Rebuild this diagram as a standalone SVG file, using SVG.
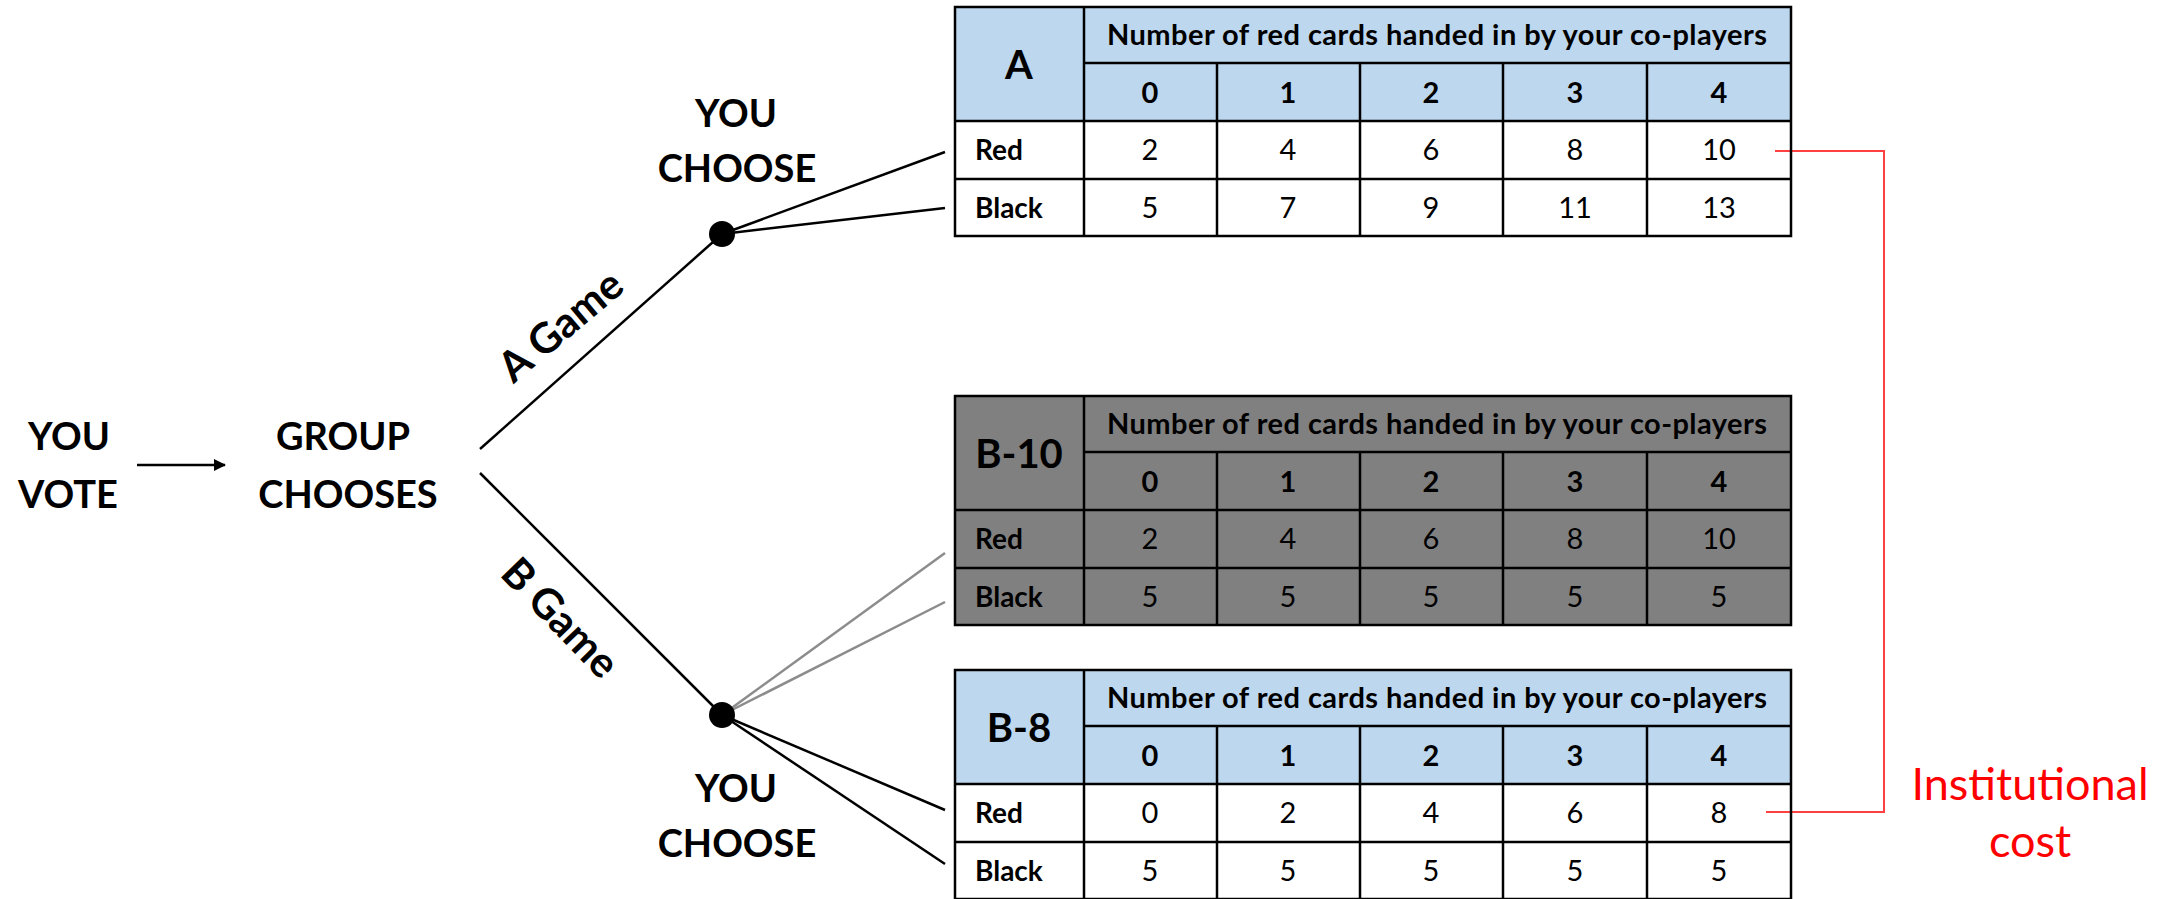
<svg xmlns="http://www.w3.org/2000/svg" width="2161" height="899" viewBox="0 0 2161 899">
<style>
.t{font-family:Lato,"Open Sans","Liberation Sans",sans-serif;fill:#000}
.big{font-size:38px;font-weight:bold;text-anchor:middle}
.hd{font-size:29px;font-weight:bold;text-anchor:middle}
.num{font-size:29px;text-anchor:middle}
.lab{font-size:28px;font-weight:bold}
.ttl{font-size:40px;font-weight:bold;text-anchor:middle}
.game{font-size:42px;font-weight:bold;text-anchor:middle}
.grid{stroke:#000;stroke-width:2.5;fill:none}
.blue{fill:#BDD7EE}
.gray{fill:#808080}
.edge{stroke:#000;stroke-width:2.5;fill:none}
.gedge{stroke:#8c8c8c;stroke-width:2.5;fill:none}
.red{stroke:#FF4040;stroke-width:2;fill:none}
.cost{font-size:45px;text-anchor:middle;fill:#FF0000}
</style>
<defs>
<marker id="ah" markerWidth="12" markerHeight="12" refX="11" refY="6" orient="auto" markerUnits="userSpaceOnUse">
<path d="M0,0 L12,6 L0,12 z" fill="#000"/>
</marker>
<g id="gridlines">
<rect x="955" y="0" width="836" height="229" class="grid"/>
<line x1="1084" y1="56" x2="1791" y2="56" class="grid"/>
<line x1="955" y1="114" x2="1791" y2="114" class="grid"/>
<line x1="955" y1="172" x2="1791" y2="172" class="grid"/>
<line x1="1084" y1="0" x2="1084" y2="229" class="grid"/>
<line x1="1217" y1="56" x2="1217" y2="229" class="grid"/>
<line x1="1360" y1="56" x2="1360" y2="229" class="grid"/>
<line x1="1503" y1="56" x2="1503" y2="229" class="grid"/>
<line x1="1647" y1="56" x2="1647" y2="229" class="grid"/>
</g>
<g id="headtext">
<text x="1437" y="38" class="t hd" textLength="660">Number of red cards handed in by your co-players</text>
<text x="1150" y="96" class="t hd">0</text>
<text x="1288" y="96" class="t hd">1</text>
<text x="1431" y="96" class="t hd">2</text>
<text x="1575" y="96" class="t hd">3</text>
<text x="1719" y="96" class="t hd">4</text>
<text x="975" y="153" class="t lab">Red</text>
<text x="975" y="211" class="t lab">Black</text>
</g>
</defs>

<g id="connectors">
<line x1="137" y1="465" x2="225" y2="465" class="edge" marker-end="url(#ah)"/>
<line x1="480" y1="449" x2="722" y2="234" class="edge"/>
<line x1="480" y1="473" x2="722" y2="715" class="edge"/>
<line x1="722" y1="234" x2="945" y2="152" class="edge"/>
<line x1="722" y1="234" x2="945" y2="208" class="edge"/>
<line x1="722" y1="715" x2="945" y2="553" class="gedge"/>
<line x1="722" y1="715" x2="945" y2="602" class="gedge"/>
<line x1="722" y1="715" x2="945" y2="810" class="edge"/>
<line x1="722" y1="715" x2="945" y2="864" class="edge"/>
<polyline points="1775,151 1884,151 1884,812 1766,812" class="red"/>
<text x="570" y="337" class="t game" transform="rotate(-40 570 337)">A Game</text>
<text x="550" y="628" class="t game" transform="rotate(46 550 628)">B Game</text>
</g>

<g id="n-vote"><text x="69" y="450" class="t big">YOU</text><text x="68" y="508" class="t big">VOTE</text></g>
<g id="n-group"><text x="343" y="450" class="t big">GROUP</text><text x="348" y="508" class="t big">CHOOSES</text></g>
<g id="n-choiceA"><circle cx="722" cy="234" r="13" fill="#000"/><text x="736" y="127" class="t big">YOU</text><text x="737" y="182" class="t big">CHOOSE</text></g>
<g id="n-choiceB"><circle cx="722" cy="715" r="13" fill="#000"/><text x="736" y="802" class="t big">YOU</text><text x="737" y="857" class="t big">CHOOSE</text></g>

<g id="tableA" transform="translate(0,7)">
<rect x="955" y="0" width="836" height="114" class="blue"/>
<use href="#gridlines"/>
<use href="#headtext"/>
<text x="1019" y="72" class="t ttl">A</text>
<text x="1150" y="153" class="t num">2</text><text x="1288" y="153" class="t num">4</text><text x="1431" y="153" class="t num">6</text><text x="1575" y="153" class="t num">8</text><text x="1719" y="153" class="t num">10</text>
<text x="1150" y="211" class="t num">5</text><text x="1288" y="211" class="t num">7</text><text x="1431" y="211" class="t num">9</text><text x="1575" y="211" class="t num">11</text><text x="1719" y="211" class="t num">13</text>
</g>

<g id="tableB10" transform="translate(0,396)">
<rect x="955" y="0" width="836" height="229" class="gray"/>
<use href="#gridlines"/>
<use href="#headtext"/>
<text x="1019" y="72" class="t ttl">B-10</text>
<text x="1150" y="153" class="t num">2</text><text x="1288" y="153" class="t num">4</text><text x="1431" y="153" class="t num">6</text><text x="1575" y="153" class="t num">8</text><text x="1719" y="153" class="t num">10</text>
<text x="1150" y="211" class="t num">5</text><text x="1288" y="211" class="t num">5</text><text x="1431" y="211" class="t num">5</text><text x="1575" y="211" class="t num">5</text><text x="1719" y="211" class="t num">5</text>
</g>

<g id="tableB8" transform="translate(0,670)">
<rect x="955" y="0" width="836" height="114" class="blue"/>
<use href="#gridlines"/>
<use href="#headtext"/>
<text x="1019" y="72" class="t ttl">B-8</text>
<text x="1150" y="153" class="t num">0</text><text x="1288" y="153" class="t num">2</text><text x="1431" y="153" class="t num">4</text><text x="1575" y="153" class="t num">6</text><text x="1719" y="153" class="t num">8</text>
<text x="1150" y="211" class="t num">5</text><text x="1288" y="211" class="t num">5</text><text x="1431" y="211" class="t num">5</text><text x="1575" y="211" class="t num">5</text><text x="1719" y="211" class="t num">5</text>
</g>

<g id="n-cost">
<text x="2030" y="800" class="t cost" style="fill:#FF0000">Institutional</text>
<text x="2030" y="857" class="t cost" style="fill:#FF0000">cost</text>
</g>
</svg>
